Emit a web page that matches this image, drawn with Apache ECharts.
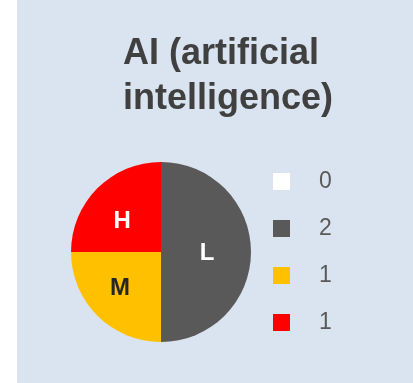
<!DOCTYPE html>
<html>
<head>
<meta charset="utf-8">
<script src="https://cdn.jsdelivr.net/npm/echarts@6/dist/echarts.min.js"></script>
<style>
  html, body { margin: 0; padding: 0; background: #ffffff; }
  #chart { width: 413px; height: 383px; }
</style>
</head>
<body>
<div id="chart"></div>
<script>
// Rating categories and how many items fall into each
var categories = ['N', 'L', 'M', 'H'];
var counts = [0, 2, 1, 1];
var sliceColors = ['#FFFFFF', '#595959', '#FFC000', '#FF0000'];
var labelColors = ['#FFFFFF', '#FFFFFF', '#262626', '#FFFFFF'];
var titleLines = ['AI (artificial', 'intelligence)'];

// small nudges for the in-slice labels
var labelOffsets = { N: [0, 0], L: [-2, 1], M: [-7, 2], H: [-5, 3] };

var chart = echarts.init(document.getElementById('chart'), null, { renderer: 'canvas' });

var pieData = categories.map(function (c, i) {
  return {
    name: c,
    value: counts[i],
    itemStyle: { color: sliceColors[i] },
    label: {
      show: counts[i] > 0,
      color: labelColors[i],
      offset: labelOffsets[c]
    }
  };
});

var titleStyle = {
  fontFamily: 'Liberation Sans, Arial, sans-serif',
  fontSize: 36,
  fontWeight: 'bold',
  color: '#404040'
};

var option = {
  backgroundColor: '#ffffff',
  animation: false,
  graphic: [{
    type: 'rect',
    z: -10,
    silent: true,
    shape: { x: 17, y: 0, width: 396, height: 383 },
    style: { fill: '#DAE4F1' }
  }],
  title: [
    { text: titleLines[0], left: 221, top: 36, textAlign: 'center', padding: 0, textStyle: titleStyle },
    { text: titleLines[1], left: 228, top: 81, textAlign: 'center', padding: 0, textStyle: titleStyle }
  ],
  legend: {
    orient: 'vertical',
    left: 273,
    top: 170,
    padding: 0,
    icon: 'rect',
    itemWidth: 17,
    itemHeight: 17,
    itemGap: 24,
    selectedMode: false,
    data: categories,
    formatter: function (name) {
      return String(counts[categories.indexOf(name)]);
    },
    textStyle: {
      fontFamily: 'Liberation Sans, Arial, sans-serif',
      fontSize: 23,
      color: '#595959',
      padding: [0, 0, 0, 24]
    }
  },
  series: [{
    type: 'pie',
    center: [161, 252],
    radius: [0, 90],
    startAngle: 90,
    clockwise: true,
    avoidLabelOverlap: false,
    stillShowZeroSum: true,
    minAngle: 0,
    label: {
      position: 'inside',
      formatter: '{b}',
      fontFamily: 'Liberation Sans, Arial, sans-serif',
      fontSize: 24,
      fontWeight: 'bold'
    },
    labelLine: { show: false },
    emphasis: { disabled: true },
    itemStyle: { borderWidth: 0 },
    data: pieData
  }]
};

chart.setOption(option);
</script>
</body>
</html>
